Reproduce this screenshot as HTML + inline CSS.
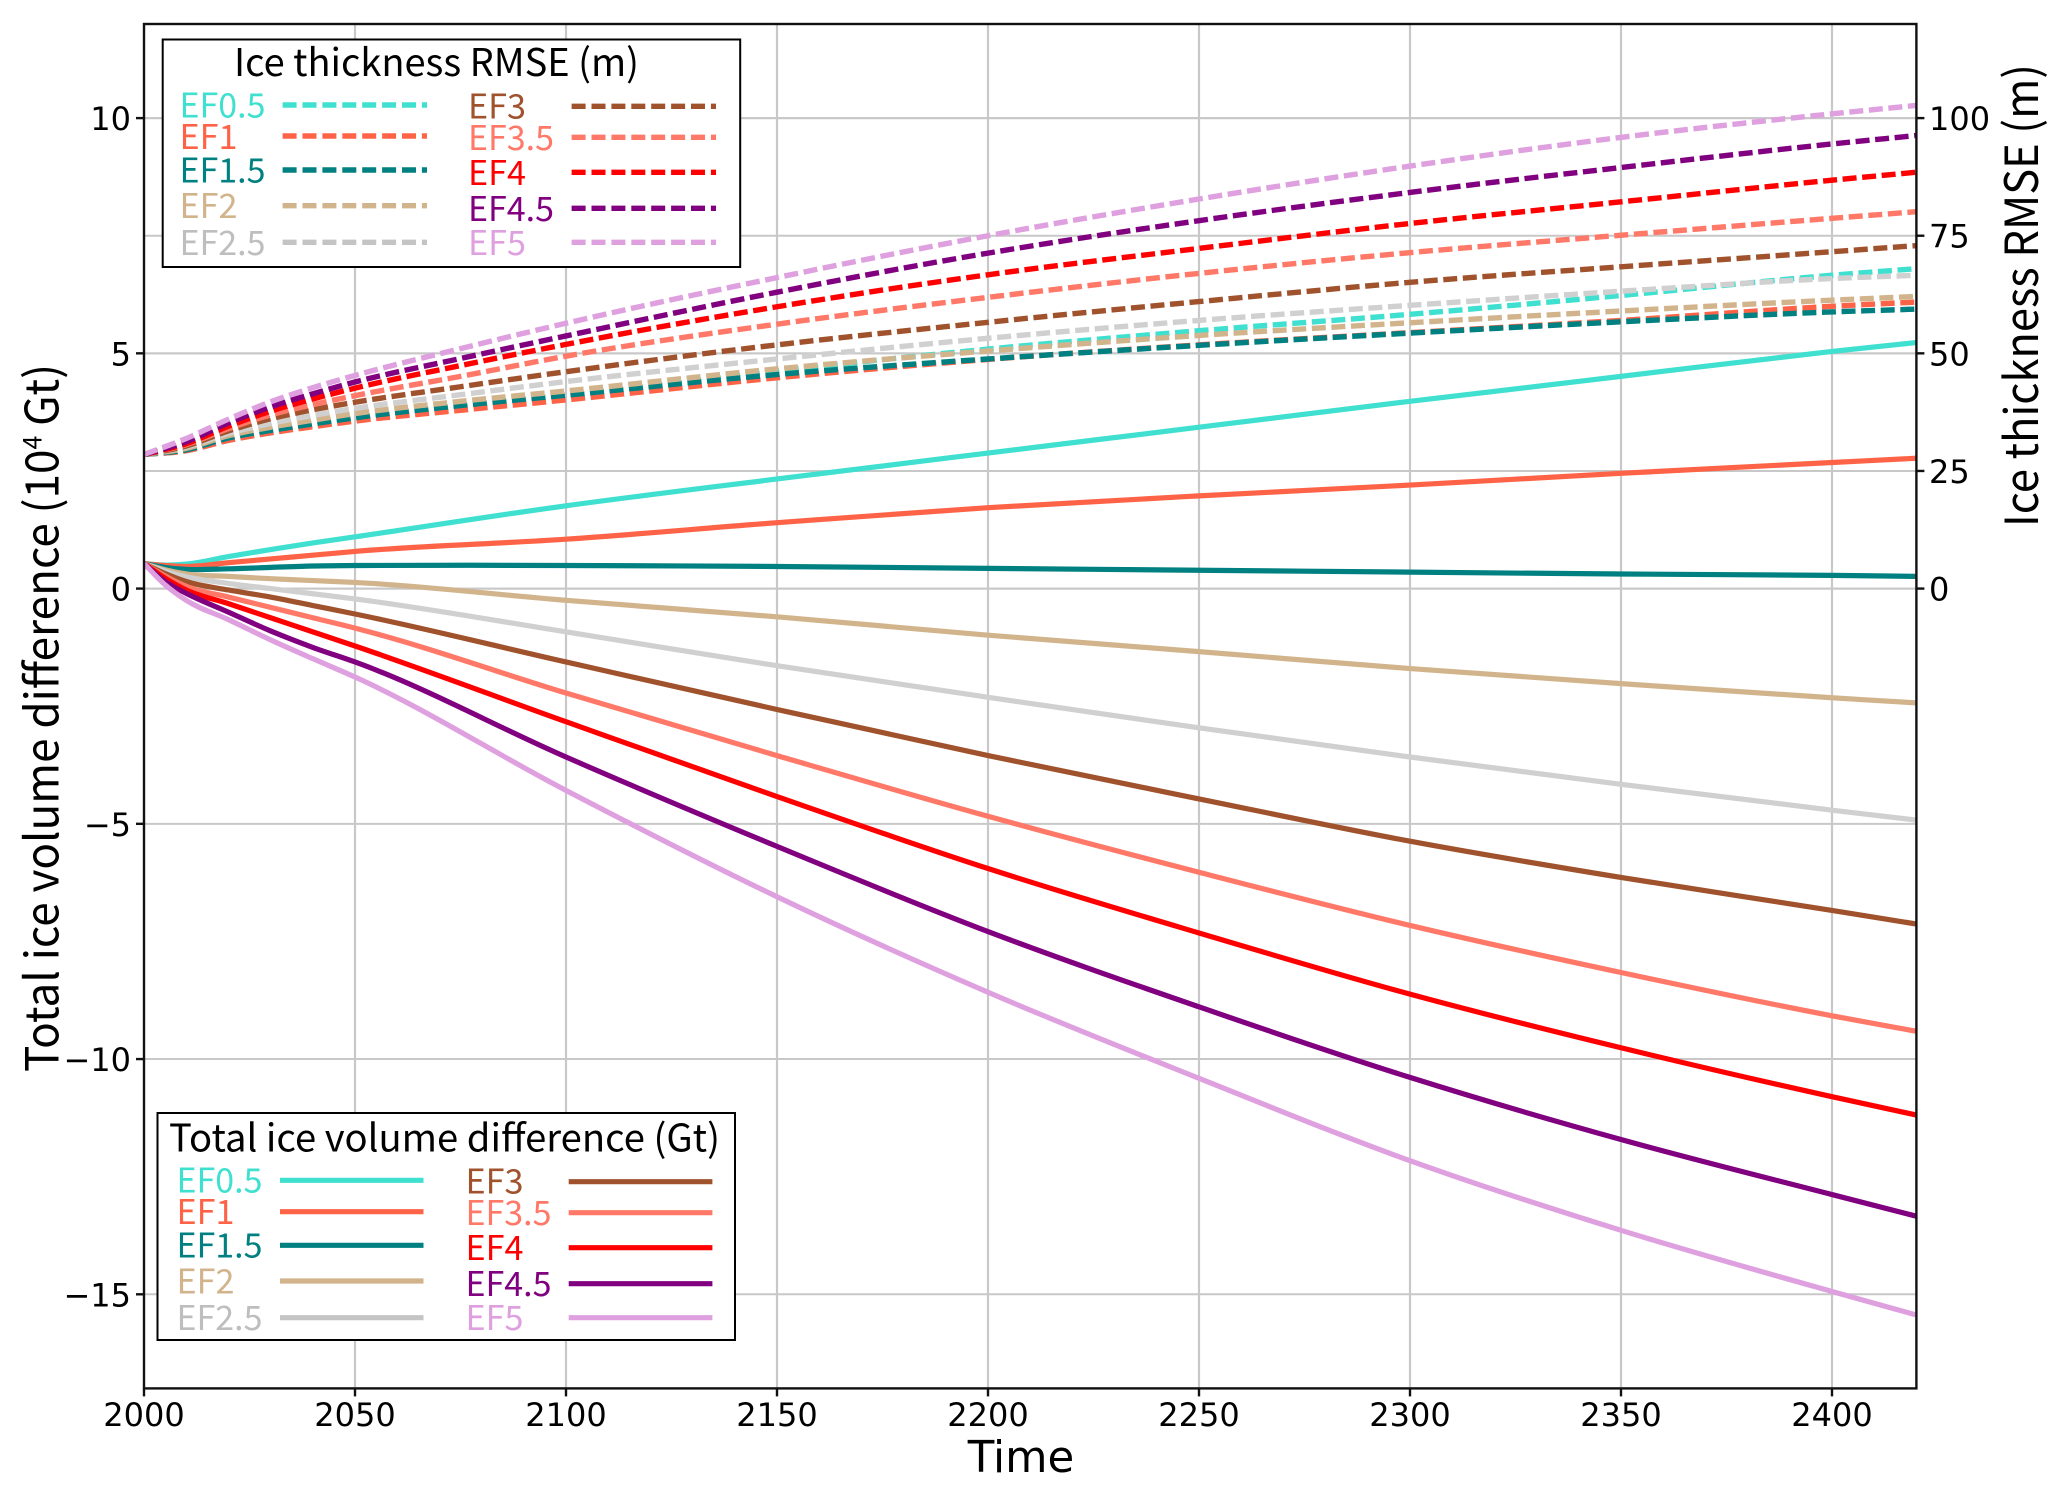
<!DOCTYPE html>
<html lang="en">
<head>
<meta charset="utf-8">
<title>Total ice volume difference and ice thickness RMSE</title>
<style>
html,body{margin:0;padding:0;background:#fff;}
svg{display:block;}
.tick{font-family:"DejaVu Sans",sans-serif;font-size:32px;fill:#000;}
.lab{font-family:"Noto Sans CJK JP","Liberation Sans",sans-serif;}
.leg{font-family:"Noto Sans CJK JP","Liberation Sans",sans-serif;font-size:34px;}
.ttl{font-family:"Noto Sans CJK JP","Liberation Sans",sans-serif;font-size:38px;fill:#000;}
.ld{stroke-width:5.4;stroke-dasharray:14 5.9;fill:none;}
.ls{stroke-width:5.2;fill:none;}
</style>
</head>
<body>
<svg id="chart" xmlns="http://www.w3.org/2000/svg" width="2067" height="1496" viewBox="0 0 2067 1496">
  <defs><clipPath id="plot-clip"><rect x="144" y="24" width="1772.4" height="1364.4"/></clipPath></defs>
  <rect x="0" y="0" width="2067" height="1496" fill="#fff"/>
  <g id="grid"></g>
  <g id="solid" clip-path="url(#plot-clip)"></g>
  <g id="dashed" clip-path="url(#plot-clip)"></g>

  <g>
    <rect x="162.7" y="39.5" width="577.5" height="227.5" fill="#fff" stroke="#000" stroke-width="2"/>
    <text class="ttl" x="234" y="76" textLength="405" lengthAdjust="spacingAndGlyphs">Ice thickness RMSE (m)</text>
    <text class="leg" x="179.5" y="117.5" fill="#40E0D0" textLength="86" lengthAdjust="spacingAndGlyphs">EF0.5</text>
    <line class="ld" x1="282.6" x2="427" y1="105" y2="105" stroke="#40E0D0"/>
    <text class="leg" x="179.5" y="149" fill="#FF6347" textLength="58" lengthAdjust="spacingAndGlyphs">EF1</text>
    <line class="ld" x1="282.6" x2="427" y1="136" y2="136" stroke="#FF6347"/>
    <text class="leg" x="179.5" y="182.5" fill="#008080" textLength="86" lengthAdjust="spacingAndGlyphs">EF1.5</text>
    <line class="ld" x1="282.6" x2="427" y1="170" y2="170" stroke="#008080"/>
    <text class="leg" x="179.5" y="218" fill="#D2B48C" textLength="58" lengthAdjust="spacingAndGlyphs">EF2</text>
    <line class="ld" x1="282.6" x2="427" y1="205.7" y2="205.7" stroke="#D2B48C"/>
    <text class="leg" x="179.5" y="255" fill="#BEBEBE" textLength="86" lengthAdjust="spacingAndGlyphs">EF2.5</text>
    <line class="ld" x1="282.6" x2="427" y1="242.3" y2="242.3" stroke="#C4C4C4"/>
    <text class="leg" x="468" y="118.5" fill="#A0522D" textLength="58" lengthAdjust="spacingAndGlyphs">EF3</text>
    <line class="ld" x1="571.6" x2="716" y1="106.3" y2="106.3" stroke="#A0522D"/>
    <text class="leg" x="468" y="150" fill="#FF7868" textLength="86" lengthAdjust="spacingAndGlyphs">EF3.5</text>
    <line class="ld" x1="571.6" x2="716" y1="137.3" y2="137.3" stroke="#FF7868"/>
    <text class="leg" x="468" y="185" fill="#FF0000" textLength="58" lengthAdjust="spacingAndGlyphs">EF4</text>
    <line class="ld" x1="571.6" x2="716" y1="172.3" y2="172.3" stroke="#FF0000"/>
    <text class="leg" x="468" y="221" fill="#800080" textLength="86" lengthAdjust="spacingAndGlyphs">EF4.5</text>
    <line class="ld" x1="571.6" x2="716" y1="208.3" y2="208.3" stroke="#800080"/>
    <text class="leg" x="468" y="255" fill="#DFA0DF" textLength="58" lengthAdjust="spacingAndGlyphs">EF5</text>
    <line class="ld" x1="571.6" x2="716" y1="242.3" y2="242.3" stroke="#DFA0DF"/>
  </g>

  <g>
    <rect x="157.5" y="1113" width="577.5" height="227" fill="#fff" stroke="#000" stroke-width="2"/>
    <text class="ttl" x="169" y="1151.7" textLength="551" lengthAdjust="spacingAndGlyphs">Total ice volume difference (Gt)</text>
    <text class="leg" x="176.5" y="1192.5" fill="#40E0D0" textLength="86" lengthAdjust="spacingAndGlyphs">EF0.5</text>
    <line class="ls" x1="280" x2="423.5" y1="1180.3" y2="1180.3" stroke="#40E0D0"/>
    <text class="leg" x="176.5" y="1224" fill="#FF6347" textLength="58" lengthAdjust="spacingAndGlyphs">EF1</text>
    <line class="ls" x1="280" x2="423.5" y1="1211.7" y2="1211.7" stroke="#FF6347"/>
    <text class="leg" x="176.5" y="1257.5" fill="#008080" textLength="86" lengthAdjust="spacingAndGlyphs">EF1.5</text>
    <line class="ls" x1="280" x2="423.5" y1="1245.3" y2="1245.3" stroke="#008080"/>
    <text class="leg" x="176.5" y="1293.5" fill="#D2B48C" textLength="58" lengthAdjust="spacingAndGlyphs">EF2</text>
    <line class="ls" x1="280" x2="423.5" y1="1281" y2="1281" stroke="#D2B48C"/>
    <text class="leg" x="176.5" y="1330" fill="#BEBEBE" textLength="86" lengthAdjust="spacingAndGlyphs">EF2.5</text>
    <line class="ls" x1="280" x2="423.5" y1="1317.7" y2="1317.7" stroke="#C4C4C4"/>
    <text class="leg" x="465.5" y="1193.5" fill="#A0522D" textLength="58" lengthAdjust="spacingAndGlyphs">EF3</text>
    <line class="ls" x1="568.7" x2="712.4" y1="1181.7" y2="1181.7" stroke="#A0522D"/>
    <text class="leg" x="465.5" y="1225" fill="#FF7868" textLength="86" lengthAdjust="spacingAndGlyphs">EF3.5</text>
    <line class="ls" x1="568.7" x2="712.4" y1="1212.7" y2="1212.7" stroke="#FF7868"/>
    <text class="leg" x="465.5" y="1260" fill="#FF0000" textLength="58" lengthAdjust="spacingAndGlyphs">EF4</text>
    <line class="ls" x1="568.7" x2="712.4" y1="1247.7" y2="1247.7" stroke="#FF0000"/>
    <text class="leg" x="465.5" y="1296" fill="#800080" textLength="86" lengthAdjust="spacingAndGlyphs">EF4.5</text>
    <line class="ls" x1="568.7" x2="712.4" y1="1283.7" y2="1283.7" stroke="#800080"/>
    <text class="leg" x="465.5" y="1330" fill="#DFA0DF" textLength="58" lengthAdjust="spacingAndGlyphs">EF5</text>
    <line class="ls" x1="568.7" x2="712.4" y1="1317.7" y2="1317.7" stroke="#DFA0DF"/>
  </g>

  <g id="axes"></g>
  <rect x="144" y="24" width="1772.4" height="1364.4" fill="none" stroke="#111" stroke-width="2.4"/>

  <text x="1021" y="1472" text-anchor="middle" style="font-family:'DejaVu Sans',sans-serif;font-size:43.5px" fill="#000">Time</text>
  <text class="lab" transform="translate(58.5,1072) rotate(-90)" x="0" y="0" font-size="46" fill="#000" textLength="708" lengthAdjust="spacingAndGlyphs">Total ice volume difference (10<tspan font-size="26" dy="-17">4</tspan><tspan dy="17"> Gt)</tspan></text>
  <text class="lab" transform="translate(2038,527) rotate(-90)" x="0" y="0" font-size="46" fill="#000" textLength="463" lengthAdjust="spacingAndGlyphs">Ice thickness RMSE (m)</text>
</svg>
<script>
// Time axes for each group of series
const volumeYears = [2000,2005,2010,2020,2030,2040,2050,2100,2150,2200,2250,2300,2350,2400,2420];
const rmseYears = [2000,2010,2020,2030,2040,2050,2075,2100,2150,2200,2250,2300,2350,2400,2420];

// Total ice volume difference (10^4 Gt)
const volEF05 = [0.53,0.50,0.52,0.68,0.83,0.97,1.10,1.76,2.33,2.88,3.43,3.98,4.51,5.04,5.23];
const volEF1 = [0.53,0.49,0.47,0.55,0.63,0.71,0.79,1.05,1.40,1.72,1.97,2.20,2.45,2.68,2.77];
const volEF15 = [0.53,0.45,0.41,0.42,0.45,0.48,0.49,0.49,0.47,0.43,0.39,0.35,0.31,0.28,0.26];
const volEF2 = [0.53,0.40,0.31,0.26,0.21,0.17,0.13,-0.25,-0.60,-0.99,-1.34,-1.70,-2.02,-2.32,-2.43];
const volEF25 = [0.53,0.37,0.25,0.11,0.00,-0.11,-0.22,-0.92,-1.64,-2.31,-2.96,-3.58,-4.16,-4.71,-4.92];
const volEF3 = [0.53,0.32,0.15,-0.03,-0.18,-0.36,-0.54,-1.56,-2.57,-3.55,-4.47,-5.37,-6.14,-6.84,-7.13];
const volEF35 = [0.53,0.27,0.05,-0.18,-0.40,-0.62,-0.84,-2.22,-3.55,-4.84,-6.03,-7.16,-8.16,-9.08,-9.41];
const volEF4 = [0.53,0.22,-0.03,-0.32,-0.62,-0.92,-1.22,-2.83,-4.42,-5.95,-7.32,-8.62,-9.76,-10.80,-11.19];
const volEF45 = [0.53,0.15,-0.10,-0.50,-0.90,-1.25,-1.56,-3.58,-5.48,-7.29,-8.89,-10.39,-11.71,-12.88,-13.34];
const volEF5 = [0.53,0.08,-0.25,-0.66,-1.09,-1.49,-1.88,-4.29,-6.55,-8.58,-10.41,-12.16,-13.64,-14.94,-15.44];

// Ice thickness RMSE (m)
const rmseEF05 = [28.5,29.3,31.5,33.1,34.5,35.8,38.4,40.8,46.2,50.9,54.8,58.3,62.3,66.6,68.0];
const rmseEF1 = [28.5,29.3,31.5,33.1,34.4,35.6,37.9,40.1,44.8,48.7,51.8,54.4,57.0,60.0,60.9];
const rmseEF15 = [28.5,29.5,32.0,33.6,35.0,36.3,38.9,41.1,45.5,48.8,51.7,54.3,56.7,58.8,59.4];
const rmseEF2 = [28.5,29.8,32.5,34.3,35.8,37.2,39.8,42.0,46.7,50.5,53.8,56.5,59.0,61.3,62.1];
const rmseEF25 = [28.5,30.1,33.0,35.1,36.8,38.3,41.2,44.0,48.8,53.2,57.0,60.2,63.2,65.9,66.6];
const rmseEF3 = [28.5,30.3,33.5,36.1,38.0,39.6,42.9,46.1,51.8,56.6,61.0,65.1,68.4,71.6,72.9];
const rmseEF35 = [28.5,30.6,34.0,36.9,39.1,41.0,45.1,49.4,56.2,61.9,67.0,71.4,75.1,78.7,80.1];
const rmseEF4 = [28.5,30.8,34.5,37.7,40.3,42.6,47.4,51.9,59.9,66.7,72.3,77.6,82.2,86.8,88.5];
const rmseEF45 = [28.5,31.2,35.2,38.6,41.4,43.9,48.9,53.7,63.0,71.3,78.2,84.2,89.5,94.5,96.3];
const rmseEF5 = [28.5,31.9,36.0,39.7,42.7,45.3,51.0,56.4,66.1,75.0,82.8,89.8,95.9,100.9,102.7];

// Categories and tick labels
const seriesNames = ["ef05","ef1","ef15","ef2","ef25","ef3","ef35","ef4","ef45","ef5"];
const seriesColors = ["#40E0D0","#FF6347","#008080","#D2B48C","#D0D0D0","#A0522D","#FF7868","#FF0000","#800080","#DFA0DF"];
const xTicks = [2000,2050,2100,2150,2200,2250,2300,2350,2400];
const leftTicks = [10,5,0,-5,-10,-15];
const rightTicks = [100,75,50,25,0];

const volumeSeries = [volEF05,volEF1,volEF15,volEF2,volEF25,volEF3,volEF35,volEF4,volEF45,volEF5];
const rmseSeries = [rmseEF05,rmseEF1,rmseEF15,rmseEF2,rmseEF25,rmseEF3,rmseEF35,rmseEF4,rmseEF45,rmseEF5];

const NS = "http://www.w3.org/2000/svg";
const PLOT = {left:144, right:1916.4, top:24, bottom:1388.4};
const xScale = yr => PLOT.left + (yr - 2000) * (PLOT.right - PLOT.left) / 420;
const yLeft = v => PLOT.bottom - (v + 17) * (PLOT.bottom - PLOT.top) / 29;
const yRight = m => yLeft(m / 10);

function mk(tag, attrs, parent){
  const el = document.createElementNS(NS, tag);
  for (const k in attrs) el.setAttribute(k, attrs[k]);
  parent.appendChild(el);
  return el;
}

// Smooth path through points using finite-difference Hermite tangents
function smoothPath(xs, ys){
  const n = xs.length, t = [];
  for (let i = 0; i < n; i++){
    if (i === 0) t.push((ys[1]-ys[0])/(xs[1]-xs[0]));
    else if (i === n-1) t.push((ys[n-1]-ys[n-2])/(xs[n-1]-xs[n-2]));
    else {
      const h0 = xs[i]-xs[i-1], h1 = xs[i+1]-xs[i];
      const s0 = (ys[i]-ys[i-1])/h0, s1 = (ys[i+1]-ys[i])/h1;
      t.push((s0*h1 + s1*h0)/(h0+h1));
    }
  }
  let d = "M" + xs[0].toFixed(2) + " " + ys[0].toFixed(2);
  for (let i = 0; i < n-1; i++){
    const h = (xs[i+1]-xs[i])/3;
    d += "C" + (xs[i]+h).toFixed(2) + " " + (ys[i]+t[i]*h).toFixed(2) + " " +
         (xs[i+1]-h).toFixed(2) + " " + (ys[i+1]-t[i+1]*h).toFixed(2) + " " +
         xs[i+1].toFixed(2) + " " + ys[i+1].toFixed(2);
  }
  return d;
}

const gridG = document.getElementById("grid");
const solidG = document.getElementById("solid");
const dashedG = document.getElementById("dashed");
const axesG = document.getElementById("axes");

xTicks.forEach(t => {
  const x = xScale(t);
  if (t !== 2000) {
    const g = mk("line", {x1:x, x2:x, y1:PLOT.top, y2:PLOT.bottom, stroke:"#c8c8c8", "stroke-width":2.2}, gridG);
    
    
  }
  const m = mk("line", {x1:x, x2:x, y1:PLOT.bottom, y2:PLOT.bottom+8, stroke:"#111", "stroke-width":2.4}, axesG);
  
  
  const l = mk("text", {x:x, y:1426, "text-anchor":"middle", class:"tick"}, axesG);
  
  
  l.textContent = String(t);
});

leftTicks.forEach(t => {
  const y = yLeft(t);
  const g = mk("line", {x1:PLOT.left, x2:PLOT.right, y1:y, y2:y, stroke:"#c8c8c8", "stroke-width":2}, gridG);
  
  
  const m = mk("line", {x1:PLOT.left-8, x2:PLOT.left, y1:y, y2:y, stroke:"#111", "stroke-width":2.4}, axesG);
  
  
  const l = mk("text", {x:131, y:y+12, "text-anchor":"end", class:"tick"}, axesG);
  
  
  l.textContent = String(t).replace("-", "\u2212");
});

rightTicks.forEach(t => {
  const y = yRight(t);
  const g = mk("line", {x1:PLOT.left, x2:PLOT.right, y1:y, y2:y, stroke:"#c8c8c8", "stroke-width":2}, gridG);
  
  
  const m = mk("line", {x1:PLOT.right, x2:PLOT.right+8, y1:y, y2:y, stroke:"#111", "stroke-width":2.4}, axesG);
  
  
  const l = mk("text", {x:1929, y:y+12, "text-anchor":"start", class:"tick"}, axesG);
  
  
  l.textContent = String(t);
});

volumeSeries.forEach((vals, i) => {
  const p = mk("path", {d:smoothPath(volumeYears.map(xScale), vals.map(yLeft)), fill:"none", stroke:seriesColors[i], "stroke-width":5.2}, solidG);
  
  
});

rmseSeries.forEach((vals, i) => {
  const p = mk("path", {d:smoothPath(rmseYears.map(xScale), vals.map(yRight)), fill:"none", stroke:seriesColors[i], "stroke-width":5.4, "stroke-dasharray":"14 5.6"}, dashedG);
  
  
});
</script>
</body>
</html>
